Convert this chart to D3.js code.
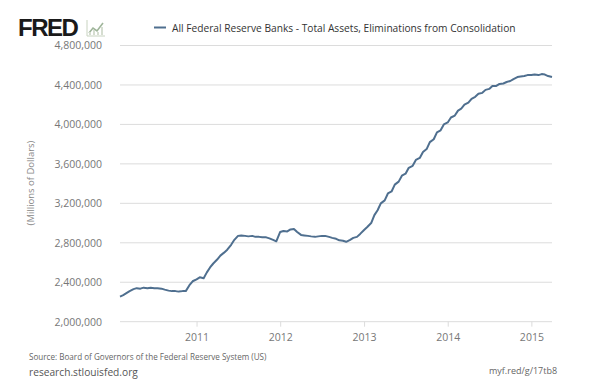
<!DOCTYPE html>
<html><head><meta charset="utf-8">
<script src="https://cdn.jsdelivr.net/npm/d3@7/dist/d3.min.js"></script>
<style>
html,body{margin:0;padding:0;background:#fff;}
svg{display:block;font-family:"Open Sans",sans-serif;}
</style></head>
<body>
<svg id="c" width="600" height="392"></svg>
<script>
// Semi-monthly observations (1st and 15th), starting Feb 2010; values in billions of dollars
const startYear = 2010, startMonth = 1; // Feb (0-based)
const valuesBillions = [
  // 2010 Feb-Dec
  2255,2270, 2290,2310, 2330,2340, 2335,2345, 2340,2345, 2340,2340, 2335,2325, 2315,2310, 2310,2305, 2310,2310, 2370,2410,
  // 2011
  2430,2450, 2440,2500, 2550,2590, 2630,2670, 2700,2730, 2780,2830, 2870,2875, 2870,2865, 2870,2860, 2860,2855, 2855,2845, 2830,2815,
  // 2012
  2910,2920, 2915,2935, 2940,2910, 2880,2875, 2870,2865, 2860,2865, 2870,2870, 2860,2850, 2840,2825, 2820,2810, 2830,2850, 2860,2890,
  // 2013
  2930,2960, 3000,3080, 3130,3200, 3230,3300, 3320,3390, 3420,3480, 3500,3560, 3580,3640, 3660,3720, 3750,3820, 3850,3920, 3940,4000,
  // 2014
  4020,4070, 4090,4140, 4160,4200, 4220,4260, 4280,4310, 4320,4350, 4360,4390, 4390,4410, 4415,4430, 4440,4460, 4480,4485, 4490,4500,
  // 2015 Jan-Apr 1
  4500,4505, 4500,4510, 4505,4490, 4480
];
const yTicks = [2000000,2400000,2800000,3200000,3600000,4000000,4400000,4800000];
const xTickYears = [2011,2012,2013,2014,2015];
const seriesName = "All Federal Reserve Banks - Total Assets, Eliminations from Consolidation";
const yTitle = "(Millions of Dollars)";
const sourceText = "Source: Board of Governors of the Federal Reserve System (US)";
const siteText = "research.stlouisfed.org";
const linkText = "myf.red/g/17tb8";

const data = valuesBillions.map((v,i)=>({
  date: new Date(startYear, startMonth + Math.floor(i/2), (i%2)?15:1),
  value: v*1000
}));

const svg = d3.select("#c");
const x = d3.scaleTime().domain(d3.extent(data,d=>d.date)).range([120,552]);
const y = d3.scaleLinear().domain([2000000,4800000]).range([321.7,45.5]);

// gridlines
svg.append("g").selectAll("line").data(yTicks).join("line")
  .attr("x1",120).attr("x2",552)
  .attr("y1",d=>y(d)).attr("y2",d=>y(d))
  .attr("stroke","#dcdcdc").attr("stroke-width",1);

// y labels
const yAxis = d3.axisLeft(y).tickValues(yTicks).tickSize(0).tickPadding(0).tickFormat(d3.format(","));
const gy = svg.append("g").attr("transform","translate(102,0)").call(yAxis);
gy.select(".domain").remove();
gy.selectAll("text").attr("fill","#777").style("font-size","10.5px").style("font-family","'Open Sans',sans-serif");

// x axis
const xAxis = d3.axisBottom(x).tickValues(xTickYears.map(yr=>new Date(yr,0,1))).tickSize(5).tickPadding(7).tickFormat(d3.timeFormat("%Y"));
const gx = svg.append("g").attr("transform","translate(0,321.7)").call(xAxis);
gx.select(".domain").remove();
gx.selectAll("line").attr("stroke","#dcdcdc");
gx.selectAll("text").attr("fill","#777").style("font-size","10.5px").style("font-family","'Open Sans',sans-serif");

// y title
svg.append("text").attr("transform","translate(34,183) rotate(-90)")
  .attr("text-anchor","middle").attr("fill","#888").style("font-size","9.5px").text(yTitle);

// line
const line = d3.line().x(d=>x(d.date)).y(d=>y(d.value)).curve(d3.curveLinear);
svg.append("path").datum(data).attr("d",line)
  .attr("fill","none").attr("stroke","#4f6f8f").attr("stroke-width",2).attr("stroke-linejoin","round");

// FRED logo
svg.append("text").attr("x",18).attr("y",36).attr("fill","#1a1a1a")
  .style("font-family","'Liberation Sans',Arial,sans-serif").style("font-weight","bold")
  .style("font-size","24px").style("letter-spacing","-1.5px").text("FRED");
const icon = svg.append("g").attr("transform","translate(87,20)");
icon.append("path").attr("d","M0,16 L0,0 M0,16 L18,16").attr("stroke","#c8d3c0").attr("fill","none").attr("stroke-width",1);
icon.append("path").attr("d","M2,13 L6,8 L10,11 L16,3").attr("stroke","#9fb59a").attr("fill","none").attr("stroke-width",1.6);
icon.append("path").attr("d","M3,15 L3,12 M7,15 L7,10 M11,15 L11,12 M15,15 L15,7").attr("stroke","#d5ddd0").attr("stroke-width",2);

// legend
svg.append("line").attr("x1",154).attr("x2",166).attr("y1",27.5).attr("y2",27.5)
  .attr("stroke","#4f6f8f").attr("stroke-width",2);
svg.append("text").attr("x",172).attr("y",31.5).attr("fill","#333").style("font-size","10.2px").text(seriesName);

// footer
svg.append("text").attr("x",29).attr("y",359.5).attr("fill","#666").style("font-size","8.1px").text(sourceText);
svg.append("text").attr("x",29).attr("y",376).attr("fill","#555").style("font-size","10.2px").text(siteText);
svg.append("text").attr("x",489).attr("y",374).attr("fill","#666").style("font-size","9px").text(linkText);
</script>
</body></html>
